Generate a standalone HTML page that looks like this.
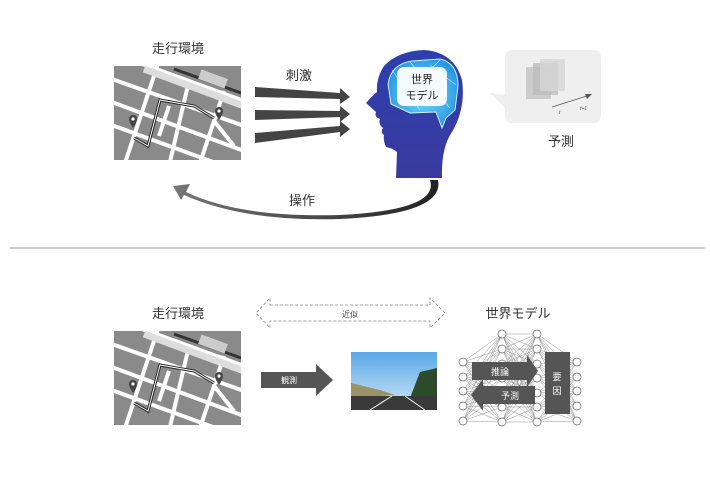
<!DOCTYPE html>
<html><head><meta charset="utf-8"><style>
html,body{margin:0;padding:0;background:#fff;}
body{width:710px;height:474px;overflow:hidden;font-family:"Liberation Sans","Noto Sans CJK JP",sans-serif;}
</style></head><body>
<svg id="s" width="710" height="474" viewBox="0 0 710 474" xmlns="http://www.w3.org/2000/svg" font-family="Liberation Sans, Noto Sans CJK JP, sans-serif">
<defs>
<clipPath id="mc"><rect x="0" y="0" width="127" height="94"/></clipPath>
<g id="map">
<g clip-path="url(#mc)">
<rect x="0" y="0" width="127" height="94" fill="#8a8a8a"/>
<g stroke="#fff" stroke-width="4" fill="none">
<line x1="-5" y1="12" x2="130" y2="60"/>
<line x1="-5" y1="35" x2="130" y2="85"/>
<line x1="-5" y1="58" x2="110" y2="100"/>
<line x1="20" y1="-5" x2="130" y2="35"/>
<line x1="45" y1="-5" x2="10" y2="100"/>
<line x1="75" y1="15" x2="55" y2="100"/>
<line x1="110" y1="25" x2="85" y2="100"/>
<line x1="55" y1="40" x2="45" y2="70"/>
<line x1="100" y1="55" x2="120" y2="80"/>
</g>
<line x1="30" y1="3" x2="130" y2="40" stroke="#ddd" stroke-width="7"/>
<line x1="60" y1="3" x2="130" y2="28" stroke="#333" stroke-width="3"/>
<rect x="85" y="8" width="28" height="10" fill="#ccc" transform="rotate(20 99 13)"/>
<polyline points="20,72 34,80 46,34 80,40 100,52" fill="none" stroke="#222" stroke-width="3"/>
<polyline points="20,72 34,80 46,34 80,40 100,52" fill="none" stroke="#fff" stroke-width="1"/>
<path d="M15 53 a4 4 0 1 1 8 0 q0 3 -4 9 q-4 -6 -4 -9z" fill="#444"/><circle cx="19" cy="53" r="1.6" fill="#fff"/>
<path d="M101 45 a4 4 0 1 1 8 0 q0 3 -4 9 q-4 -6 -4 -9z" fill="#444"/><circle cx="105" cy="45" r="1.6" fill="#fff"/>
</g>
</g>
<linearGradient id="hg" x1="0" y1="0" x2="0" y2="1"><stop offset="0" stop-color="#2c3fae"/><stop offset="1" stop-color="#3a3a9e"/></linearGradient>
<radialGradient id="bg" cx="0.5" cy="0.5" r="0.6"><stop offset="0" stop-color="#7fe3ff"/><stop offset="1" stop-color="#1d8ee0"/></radialGradient>
<linearGradient id="cg" x1="1" y1="0" x2="0" y2="0"><stop offset="0" stop-color="#222"/><stop offset="1" stop-color="#777"/></linearGradient>
<linearGradient id="sky" x1="0" y1="0" x2="0" y2="1"><stop offset="0" stop-color="#5aa8e8"/><stop offset="1" stop-color="#cfe6f5"/></linearGradient>
</defs>

<!-- TOP -->
<text x="178" y="53" font-size="13" text-anchor="middle" fill="#333">走行環境</text>
<use href="#map" x="114" y="66"/>
<text x="299" y="80" font-size="13" text-anchor="middle" fill="#333">刺激</text>
<g fill="#444">
<polygon points="255,87 340,93 340,88 350,97 340,104 340,99 255,97"/>
<polygon points="255,110 340,111 340,106 350,114 340,122 340,117 255,120"/>
<polygon points="255,133 340,126 340,121 350,129 340,137 340,132 255,143"/>
</g>
<!-- head -->
<path d="M396 178 L397 152 Q392 148 386 147 Q383 140 384 135 Q380 132 383 128 Q378 124 380 119 Q374 117 376 112 L366 103 Q372 96 377 92 Q376 78 384 66 Q398 51 424 50 Q454 52 462 80 Q466 108 452 132 Q441 148 442 178 Z" fill="url(#hg)"/>
<path d="M388 84 Q391 64 412 61 L440 59 Q458 63 458 86 L455 110 L446 118 L442 128 L436 112 L410 113 L391 104 Z" fill="url(#bg)" stroke="#c8f4ff" stroke-width="1"/>
<g stroke="#e6fbff" stroke-width="0.6" opacity="0.8"><line x1="392" y1="70" x2="420" y2="110"/><line x1="410" y1="62" x2="450" y2="108"/><line x1="440" y1="60" x2="400" y2="100"/><line x1="456" y1="85" x2="430" y2="65"/></g>
<rect x="397" y="67" width="50" height="39" rx="7" fill="#f4fbff"/>
<text x="422" y="83" font-size="11" text-anchor="middle" fill="#222">世界</text>
<text x="422" y="99" font-size="11" text-anchor="middle" fill="#222">モデル</text>
<!-- bubble -->
<path d="M512 50 L593 50 Q601 50 601 58 L601 115 Q601 123 593 123 L512 123 Q505 123 505 115 L505 108 L490 93 L505 95 L505 58 Q505 50 512 50 Z" fill="#efefef"/>
<rect x="526" y="67" width="25" height="32" fill="#c8c8c8" opacity="0.9"/>
<rect x="533" y="63" width="25" height="32" fill="#bdbdbd" opacity="0.8"/>
<rect x="540" y="59" width="25" height="32" fill="#d6d6d6" opacity="0.8"/>
<line x1="552" y1="107" x2="590" y2="95" stroke="#555" stroke-width="0.8"/><polygon points="592,94 585,94 587,99" fill="#555"/>
<text x="559" y="114" font-size="5" font-style="italic" fill="#444">t</text>
<text x="580" y="110" font-size="5" font-style="italic" fill="#444">t+1</text>
<text x="561" y="146" font-size="13" text-anchor="middle" fill="#333">予測</text>
<!-- curve -->
<path d="M430 180 Q440 210 340 215 Q240 218 186 192 L190 184 L173 186 L181 200 L184 195 Q245 222 340 219 Q445 214 438 180 Z" fill="url(#cg)"/>
<text x="302" y="205" font-size="13" text-anchor="middle" fill="#333">操作</text>

<line x1="10" y1="248" x2="705" y2="248" stroke="#999" stroke-width="1"/>

<!-- BOTTOM -->
<text x="178" y="318" font-size="13" text-anchor="middle" fill="#333">走行環境</text>
<use href="#map" x="114" y="331"/>
<path d="M270 305 L430 305 L430 298 L445 313 L430 328 L430 321 L270 321 L270 328 L256 313 L270 298 Z" fill="none" stroke="#888" stroke-width="0.8" stroke-dasharray="3,2"/>
<text x="350" y="317" font-size="8" text-anchor="middle" fill="#444">近似</text>
<polygon points="261,372 316,372 316,364 333,380 316,396 316,388 261,388" fill="#555"/>
<text x="289" y="383" font-size="8" text-anchor="middle" fill="#fff">観測</text>
<!-- photo -->
<rect x="351" y="352" width="86" height="58" fill="url(#sky)"/>
<polygon points="351,383 380,390 395,395 351,398" fill="#9a9368"/>
<polygon points="420,372 437,368 437,400 410,398" fill="#2d4b2a"/>
<rect x="351" y="396" width="86" height="14" fill="#3a3a3a"/>
<line x1="370" y1="410" x2="392" y2="396" stroke="#fff" stroke-width="1"/>
<line x1="425" y1="410" x2="405" y2="396" stroke="#fff" stroke-width="1"/>
<text x="518" y="318" font-size="13" text-anchor="middle" fill="#333">世界モデル</text>
<g id="net"></g>
<polygon points="472,362 527,362 527,355 538,371 527,387 527,380 472,380" fill="#555"/>
<text x="500" y="375" font-size="9" text-anchor="middle" fill="#fff">推論</text>
<polygon points="535,386 483,386 483,379 471,395 483,411 483,404 535,404" fill="#555"/>
<text x="510" y="399" font-size="9" text-anchor="middle" fill="#fff">予測</text>
<rect x="545" y="352" width="25" height="62" fill="#555"/>
<text x="557" y="380" font-size="9" text-anchor="middle" fill="#fff">要</text>
<text x="557" y="394" font-size="9" text-anchor="middle" fill="#fff">因</text>
</svg>
<script>
(function(){
var g=document.getElementById("net");
var cols=[[463,[362,377,391,406,421]],[502,[334,349,364,378,393,407,422]],[537,[334,349,364,378,393,407,422]],[577,[362,377,391,406,421]]];
var s="";
for(var c=0;c<3;c++){var a=cols[c],b=cols[c+1];a[1].forEach(function(y1){b[1].forEach(function(y2){s+='<line x1="'+a[0]+'" y1="'+y1+'" x2="'+b[0]+'" y2="'+y2+'" stroke="#777" stroke-width="0.4"/>';});});}
cols.forEach(function(c){c[1].forEach(function(y){s+='<circle cx="'+c[0]+'" cy="'+y+'" r="4" fill="#fff" stroke="#666" stroke-width="0.7"/>';});});
g.innerHTML=s;
})();
</script>
</body></html>
